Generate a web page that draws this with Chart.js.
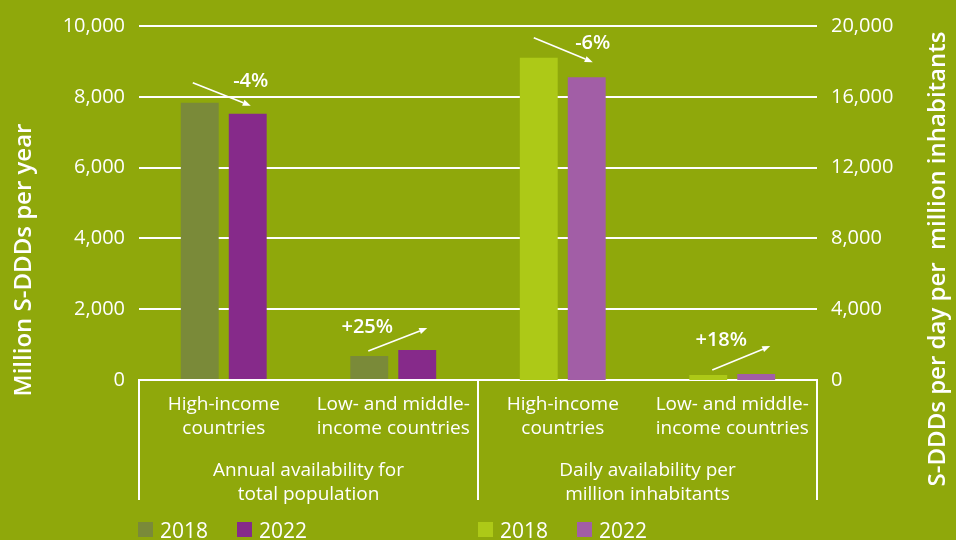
<!DOCTYPE html>
<html><head><meta charset="utf-8">
<script src="https://cdn.jsdelivr.net/npm/chart.js@4/dist/chart.umd.min.js"></script>
<style>html,body{margin:0;padding:0;background:#8fa80b;overflow:hidden}#wrap{width:956px;height:540px}</style>
</head><body><div id="wrap"><canvas id="c" width="956" height="540"></canvas></div>
<script>
// ---- data ----
const categories = [['High-income','countries'],['Low- and middle-','income countries'],['High-income','countries'],['Low- and middle-','income countries']];
const groupLabels = [['Annual availability for','total population'],['Daily availability per','million inhabitants']];
const annual2018 = [7830, 676, null, null];
const annual2022 = [7520, 845, null, null];
const daily2018 = [null, null, 18200, 282];
const daily2022 = [null, null, 17110, 333];
const changeLabels = ['-4%', '+25%', '-6%', '+18%'];
const seriesNames = ['2018', '2022', '2018', '2022'];
const leftAxisTitle = 'Million S-DDDs per year';
const rightAxisTitle = 'S-DDDs per day per  million inhabitants';

const FONT = "'Open Sans', 'Noto Sans', sans-serif";
const WHITE = '#ffffff';
const colors = ['#7a8a39', '#862a8a', '#adc917', '#a25ea6'];

Chart.defaults.font.family = FONT;
Chart.defaults.color = WHITE;

const fmt = v => v.toLocaleString('en-US');

const extras = {
  id: 'extras',
  afterDraw(chart) {
    const ctx = chart.ctx, ca = chart.chartArea, xs = chart.scales.x;
    ctx.save();
    // separators
    const mid = (xs.getPixelForValue(1) + xs.getPixelForValue(2)) / 2;
    ctx.strokeStyle = WHITE; ctx.lineWidth = 2;
    [ca.left, mid, ca.right].forEach(px => {
      ctx.beginPath(); ctx.moveTo(px, ca.bottom); ctx.lineTo(px, ca.bottom + 120); ctx.stroke();
    });
    // group labels
    ctx.fillStyle = WHITE; ctx.textAlign = 'center'; ctx.textBaseline = 'middle';
    ctx.font = '19px ' + FONT;
    groupLabels.forEach((lines, g) => {
      const cx = (xs.getPixelForValue(2*g) + xs.getPixelForValue(2*g+1)) / 2;
      lines.forEach((t, i) => ctx.fillText(t, cx, ca.bottom + 91 + i * 24));
    });
    // legend
    ctx.font = '21px ' + FONT; ctx.textAlign = 'left'; ctx.textBaseline = 'alphabetic';
    const starts = [ca.left - 1, mid];
    seriesNames.forEach((name, i) => {
      const g = Math.floor(i / 2), k = i % 2;
      const x0 = starts[g] + k * 99;
      ctx.fillStyle = colors[i];
      ctx.fillRect(x0, ca.bottom + 142, 15, 15);
      ctx.fillStyle = WHITE;
      ctx.fillText(name, x0 + 22, ca.bottom + 158);
    });
    // axis titles
    ctx.font = '600 24px ' + FONT; ctx.textAlign = 'center'; ctx.textBaseline = 'alphabetic';
    ctx.save(); ctx.translate(31, 260); ctx.rotate(-Math.PI/2); ctx.fillText(leftAxisTitle, 0, 0); ctx.restore();
    ctx.save(); ctx.translate(945, 259); ctx.rotate(-Math.PI/2); ctx.fillText(rightAxisTitle, 0, 0); ctx.restore();
    // change annotations
    const m18 = [chart.getDatasetMeta(0), chart.getDatasetMeta(2)];
    const m22 = [chart.getDatasetMeta(1), chart.getDatasetMeta(3)];
    // offsets: [sx, sy (from 2018 bar), ex, ey (from 2022 bar), tx, ty (text, from 2022 bar)]
    const offs = [
      [-7, -20, 3, -8, 3, -32],
      [-1, -5, 10, -22, -50, -23],
      [-5, -20, 6, -15, 6, -34],
      [4, -5, 14, -28, -35, -34]
    ];
    ctx.font = '600 20px ' + FONT; ctx.textAlign = 'center'; ctx.textBaseline = 'middle';
    changeLabels.forEach((lab, c) => {
      const g = c < 2 ? 0 : 1;
      const b1 = m18[g].data[c], b2 = m22[g].data[c];
      const o = offs[c];
      const sx = b1.x + o[0], sy = b1.y + o[1], ex = b2.x + o[2], ey = b2.y + o[3];
      ctx.strokeStyle = WHITE; ctx.fillStyle = WHITE; ctx.lineWidth = 1.6;
      const ang = Math.atan2(ey - sy, ex - sx);
      const hl = 8, hw = 3.2;
      const bx = ex - hl * Math.cos(ang), by = ey - hl * Math.sin(ang);
      ctx.beginPath(); ctx.moveTo(sx, sy); ctx.lineTo(bx, by); ctx.stroke();
      ctx.beginPath(); ctx.moveTo(ex, ey);
      ctx.lineTo(bx + hw * Math.sin(ang), by - hw * Math.cos(ang));
      ctx.lineTo(bx - hw * Math.sin(ang), by + hw * Math.cos(ang));
      ctx.closePath(); ctx.fill();
      ctx.fillText(lab, b2.x + o[4], b2.y + o[5]);
    });
    ctx.restore();
  }
};

const common = { skipNull: true, categoryPercentage: 0.566, barPercentage: 0.79, borderWidth: 0 };

new Chart(document.getElementById('c'), {
  type: 'bar',
  data: {
    labels: categories,
    datasets: [
      Object.assign({ label: seriesNames[0], data: annual2018, backgroundColor: colors[0], yAxisID: 'y' }, common),
      Object.assign({ label: seriesNames[1], data: annual2022, backgroundColor: colors[1], yAxisID: 'y' }, common),
      Object.assign({ label: seriesNames[2], data: daily2018, backgroundColor: colors[2], yAxisID: 'y1' }, common),
      Object.assign({ label: seriesNames[3], data: daily2022, backgroundColor: colors[3], yAxisID: 'y1' }, common)
    ]
  },
  options: {
    responsive: false, animation: false, devicePixelRatio: 1,
    layout: { padding: { top: 25, left: 0, right: 0, bottom: 0 } },
    plugins: { legend: { display: false }, tooltip: { enabled: false } },
    scales: {
      x: {
        grid: { display: false, drawTicks: false },
        border: { display: true, color: WHITE, width: 2 },
        ticks: { color: WHITE, font: { size: 19, lineHeight: 1.28 }, padding: 12, maxRotation: 0, autoSkip: false },
        afterFit: s => { s.height = 160; }
      },
      y: {
        position: 'left', min: 0, max: 10000, stacked: false,
        grid: { color: WHITE, lineWidth: 2, drawTicks: false },
        border: { display: false },
        ticks: { stepSize: 2000, color: WHITE, font: { size: 20 }, padding: 14, callback: v => fmt(v) },
        afterFit: s => { s.width = 139; }
      },
      y1: {
        position: 'right', min: 0, max: 20000, stacked: false,
        grid: { display: false, drawTicks: false },
        border: { display: false },
        ticks: { stepSize: 4000, color: WHITE, font: { size: 20 }, padding: 14, callback: v => fmt(v) },
        afterFit: s => { s.width = 139; }
      }
    }
  },
  plugins: [extras]
});
</script>
</body></html>
